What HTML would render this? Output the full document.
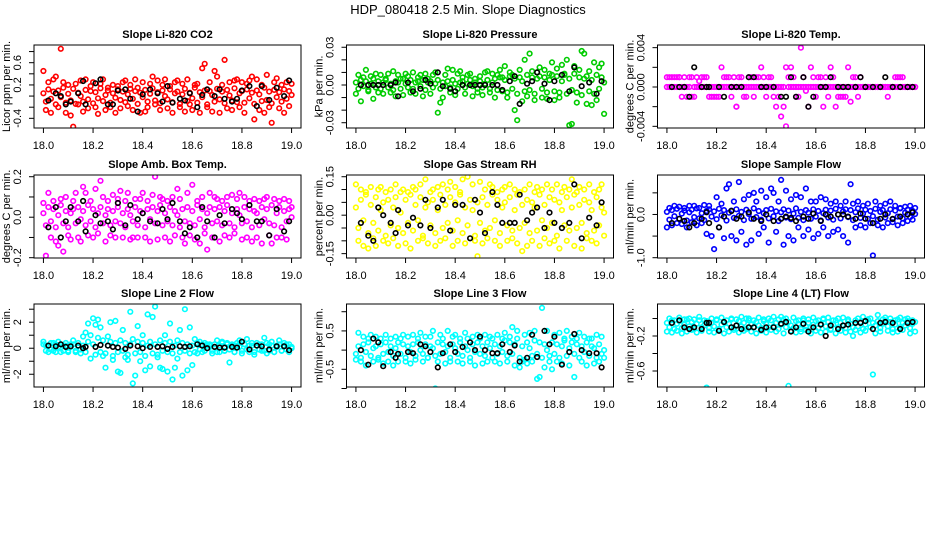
<!DOCTYPE html>
<html><head><meta charset="utf-8"><style>
html,body{margin:0;padding:0;background:#fff;}
svg{display:block;font-family:"Liberation Sans",sans-serif;}
</style></head><body>
<svg id="chart" width="936" height="540" viewBox="0 0 936 540" xmlns="http://www.w3.org/2000/svg">
<rect width="936" height="540" fill="#fff"/>
<text x="468" y="14" text-anchor="middle" font-size="13">HDP_080418  2.5 Min. Slope Diagnostics</text>
</svg>
<script>
const times=[18.00,18.01,18.02,18.03,18.04,18.05,18.06,18.07,18.08,18.09,18.10,18.11,18.12,18.13,18.14,18.15,18.16,18.17,18.18,18.19,18.20,18.21,18.22,18.23,18.24,18.25,18.26,18.27,18.28,18.29,18.30,18.31,18.32,18.33,18.34,18.35,18.36,18.37,18.38,18.39,18.40,18.41,18.42,18.43,18.44,18.45,18.46,18.47,18.48,18.49,18.50,18.51,18.52,18.53,18.54,18.55,18.56,18.57,18.58,18.59,18.60,18.61,18.62,18.63,18.64,18.65,18.66,18.67,18.68,18.69,18.70,18.71,18.72,18.73,18.74,18.75,18.76,18.77,18.78,18.79,18.80,18.81,18.82,18.83,18.84,18.85,18.86,18.87,18.88,18.89,18.90,18.91,18.92,18.93,18.94,18.95,18.96,18.97,18.98,18.99,19.00];
const blackTimes=[18.02,18.05,18.07,18.09,18.11,18.14,18.16,18.17,18.21,18.23,18.26,18.28,18.3,18.33,18.35,18.38,18.4,18.43,18.46,18.48,18.5,18.52,18.55,18.57,18.59,18.62,18.64,18.66,18.69,18.71,18.73,18.76,18.78,18.8,18.83,18.86,18.88,18.91,18.94,18.97,18.99];
const xTicks=[18.0,18.2,18.4,18.6,18.8,19.0];
const xTickLabels=["18.0","18.2","18.4","18.6","18.8","19.0"];

const co2A=[0.05,-0.1,0.12,-0.05,0.08,-0.15,0.1,-0.02,0.15,-0.12,0.04,-0.08,0.13,-0.14,0.06,0.0,-0.1,0.11,-0.06,0.09,-0.13,0.07,-0.04,0.14,-0.09,0.02,0.1,-0.12,0.05,-0.03,0.12,-0.07,0.08,-0.11,0.03,0.13,-0.05,0.09,-0.14,0.06,-0.02,0.11,-0.1,0.04,0.14,-0.08,0.07,-0.13,0.1,0.0,-0.06,0.12,-0.11,0.05,0.08,-0.14,0.03,0.13,-0.09,0.06,-0.04,0.15,-0.12,0.07,-0.02,0.1,-0.15,0.09,0.02,-0.1,0.13,-0.06,0.08,-0.13,0.11,0.01,-0.08,0.14,-0.11,0.05,0.09,-0.12,0.12,-0.04,0.06,-0.14,0.1,0.03,-0.09,0.15,-0.07,0.08,-0.13,0.11,-0.02,0.07,-0.1,0.12,-0.05,0.09,0.02];
const co2B=[0.45,-0.25,0.25,-0.3,0.3,0.35,-0.2,0.85,0.25,-0.3,0.2,-0.35,-0.55,0.22,-0.15,0.28,-0.28,0.3,-0.22,0.18,0.25,-0.2,-0.32,0.22,0.3,-0.25,0.15,-0.2,0.2,-0.3,0.18,-0.22,0.25,0.28,-0.18,0.2,-0.25,0.3,0.15,-0.3,0.25,-0.28,-0.2,0.22,0.35,-0.15,0.28,-0.25,0.2,0.3,-0.22,0.18,-0.3,0.25,0.28,-0.2,0.22,-0.28,0.3,-0.15,-0.25,0.2,0.22,-0.3,0.5,0.58,-0.2,0.25,-0.28,0.45,0.35,-0.3,0.2,0.65,-0.22,0.25,-0.25,0.28,0.3,-0.2,0.25,-0.3,0.22,0.28,0.35,-0.42,0.3,-0.25,0.2,-0.3,0.38,-0.2,-0.48,0.25,0.32,-0.22,0.2,-0.3,0.25,-0.18,0.22];
const co2Black=[-0.08,0.05,0.0,-0.15,-0.1,0.05,0.27,-0.15,0.23,0.3,-0.15,-0.15,0.1,0.12,-0.05,-0.28,0.03,0.12,0.05,-0.1,0.18,-0.12,-0.05,-0.08,0.05,-0.2,0.02,0.12,0.0,0.12,-0.05,-0.1,-0.05,0.1,0.18,-0.18,0.18,-0.07,0.15,0.0,0.28];

const presA=[0.002,-0.003,0.004,-0.001,0.003,-0.004,0.001,0.005,-0.002,0.003,-0.003,0.002,0.004,-0.002,0.001,-0.004,0.003,0.002,-0.003,0.005,0.001,-0.002,0.004,-0.003,0.002,0.003,-0.001,0.004,-0.004,0.002,0.003,-0.002,0.001,0.004,-0.003,0.002,-0.001,0.003,-0.002,0.004,0.001,-0.003,0.002,0.003,-0.002,0.001,0.004,-0.001,0.002,-0.003,0.003,-0.002,0.001,0.004,-0.003,0.002,0.005,-0.004,0.006,-0.005,0.004,-0.006,0.007,-0.003,0.005,-0.007,0.006,0.003,-0.005,0.008,-0.004,0.006,-0.007,0.005,0.007,-0.003,0.006,-0.006,0.004,0.008,-0.005,0.007,-0.006,0.003,0.008,-0.007,0.005,-0.004,0.009,-0.006,0.006,-0.008,0.005,0.007,-0.005,0.004,-0.007,0.008,-0.003,0.006,0.002];
const presB=[-0.007,0.008,-0.013,0.006,0.012,-0.005,0.007,-0.011,0.009,-0.006,0.008,-0.007,0.005,0.009,-0.006,0.011,-0.009,0.008,0.005,-0.008,0.009,0.007,-0.006,0.01,-0.007,0.006,0.008,-0.009,0.009,0.005,-0.007,0.008,0.01,-0.022,-0.014,-0.01,0.008,0.013,-0.006,0.012,-0.008,0.009,0.011,0.006,-0.007,0.008,0.009,-0.009,0.005,-0.006,0.007,-0.008,0.01,0.011,-0.006,0.009,-0.01,0.008,0.012,0.006,0.015,-0.01,0.01,0.008,-0.02,-0.028,0.012,-0.013,0.02,-0.009,0.025,0.011,-0.012,0.01,0.014,-0.01,0.012,-0.011,0.009,0.018,-0.012,0.013,-0.01,0.016,0.009,0.02,-0.032,-0.031,0.015,-0.014,0.012,0.027,0.025,-0.015,0.011,-0.016,0.018,-0.012,0.014,0.017,-0.023];
const presBlack=[0,0,0,0,0,0,0.002,-0.009,0.002,-0.005,-0.003,0.004,0.001,0.01,-0.001,-0.003,-0.005,0,0,0,0,0,0,0,-0.004,0.003,0.007,-0.015,0.001,0.003,0.01,0.001,-0.012,0.003,0.008,-0.005,0.014,-0.001,0.002,-0.007,0.003];

const tempA=[0,0,0,0,0,0.001,0,0,0,0,0.001,0,0,0,0,0,0,0,0,0,0,0,0,0,0,0,0,0,-0.002,0,0,0,0,0,0,0,0,0,0,0,0,0,0,0,0,0,0,0,-0.004,0,0,0,0,0,0,0,0,0,0,0,0,0,0,0,0,0,0,0,0,0,0,0,0,0,0,0,0,0,0,0,0,0,0,0,0,0,0,0,0,0,0,0,0,0,0,0,0,0,0,0,0];
const tempB=[0.001,0.001,0.001,0.001,0.001,0.001,-0.001,0.001,-0.001,0.001,-0.001,-0.001,0.001,0.0006,0.001,0.001,0.001,-0.001,-0.001,-0.001,-0.001,-0.001,0.002,0.001,0.001,0.001,-0.001,0.001,-0.002,0.001,0.001,-0.001,-0.001,0.001,0.001,-0.001,0.001,0.001,0.002,0.001,-0.001,0.001,0.001,-0.001,-0.002,-0.001,-0.003,-0.002,0.002,0.001,0.002,0.001,-0.001,-0.001,0.004,0.001,-0.0004,-0.002,0.002,0.001,-0.001,0.001,0.001,-0.002,0.001,-0.001,0.002,0.001,-0.002,-0.001,-0.001,-0.001,-0.001,0.002,-0.0015,0.001,0.001,-0.001,0.001,0,0,0,0,0,0,0,0,0,0,-0.001,0,0,0.001,0.001,0.001,0.001,0,0,0,0,0];
const tempBlack=[0,0,0,-0.001,0.002,0,0,0,0,-0.001,0,0,0,0.001,0.001,0,0,0,-0.001,-0.001,0.001,-0.001,0.001,-0.002,-0.001,0,0,0.001,0,0,0,0,0.001,0,0,0,0.001,0,0,0,0];

const ambA=[0.02,-0.04,0.05,-0.02,0.04,-0.05,0.01,0.06,-0.03,0.03,-0.05,0.02,0.04,-0.03,0.05,-0.01,0.03,-0.04,0.06,-0.02,0.04,-0.05,0.02,0.05,-0.03,0.01,0.04,-0.04,0.03,-0.02,0.05,-0.03,0.02,-0.05,0.04,0.01,-0.02,0.05,-0.04,0.03,0.02,-0.05,0.04,-0.01,0.05,-0.03,0.03,0.06,-0.04,0.02,-0.02,0.05,-0.04,0.03,0.01,-0.05,0.04,-0.02,0.05,-0.03,0.03,-0.04,0.06,-0.01,0.04,-0.05,0.02,0.05,-0.03,0.04,-0.02,0.05,-0.04,0.03,0.06,-0.03,0.02,-0.05,0.04,0.01,-0.03,0.05,-0.02,0.04,-0.05,0.03,0.02,-0.04,0.05,-0.01,0.04,-0.03,0.06,-0.04,0.02,0.05,-0.05,0.03,-0.02,0.04,0.0];
const ambB=[0.07,-0.19,0.12,-0.1,0.08,-0.12,-0.14,0.09,-0.17,0.1,-0.09,-0.11,0.08,0.12,-0.1,-0.12,0.15,0.12,-0.09,0.08,-0.1,0.14,-0.08,0.18,0.1,-0.12,0.08,-0.09,0.11,-0.1,0.09,0.13,-0.1,0.08,0.12,-0.11,-0.1,0.09,-0.1,0.09,0.12,-0.1,0.08,-0.12,0.11,0.2,-0.11,0.1,0.09,-0.1,0.08,-0.12,0.1,-0.09,0.14,0.09,-0.1,-0.13,0.12,-0.09,0.16,-0.11,0.08,-0.13,0.1,-0.08,-0.16,0.12,-0.1,0.1,0.09,-0.12,0.08,-0.09,0.1,-0.1,0.11,-0.08,0.09,0.12,-0.11,0.1,-0.1,0.08,-0.12,0.09,-0.1,0.08,-0.13,0.09,0.1,-0.09,-0.13,0.09,-0.1,0.08,-0.1,0.09,-0.11,0.08,0.05];
const ambBlack=[-0.05,0.05,-0.1,-0.02,0.05,-0.02,0.08,-0.07,0.01,-0.03,-0.02,-0.06,0.07,-0.04,0.06,-0.01,0.02,-0.02,-0.03,0.04,-0.01,0.07,-0.02,-0.08,-0.05,-0.1,0.05,-0.02,-0.1,0.01,-0.03,0.04,0.02,-0.01,0.06,-0.02,-0.02,-0.09,0.04,-0.07,-0.02];

const rhA=[0.03,-0.05,0.06,-0.02,0.08,-0.07,0.04,-0.03,0.07,-0.06,0.02,0.05,-0.08,0.06,-0.04,0.03,0.07,-0.05,0.01,-0.07,0.06,-0.03,0.08,-0.06,0.04,-0.02,0.07,-0.08,0.03,0.05,-0.04,0.06,-0.07,0.02,0.08,-0.05,0.04,-0.03,0.07,-0.06,0.05,-0.02,0.08,-0.07,0.03,-0.04,0.06,0.02,-0.08,0.05,-0.03,0.07,-0.06,0.04,-0.05,0.08,-0.02,0.06,-0.07,0.03,0.05,-0.04,0.07,-0.06,0.02,0.08,-0.05,0.04,-0.03,0.06,-0.07,0.05,0.03,-0.06,0.08,-0.02,0.04,-0.05,0.07,-0.03,0.06,-0.08,0.05,0.02,-0.04,0.07,-0.06,0.03,0.08,-0.05,0.04,-0.03,0.06,-0.07,0.05,0.02,-0.06,0.07,-0.04,0.03,0.01];
const rhB=[0.12,-0.1,0.1,-0.12,0.09,-0.13,0.11,-0.09,-0.12,0.1,0.11,-0.1,0.09,-0.11,0.1,-0.09,0.12,-0.12,0.09,0.1,-0.11,0.09,-0.13,0.11,0.1,-0.1,0.12,-0.09,0.14,-0.11,0.09,0.1,-0.12,0.11,-0.1,0.12,-0.09,0.1,0.13,-0.12,0.11,-0.1,0.09,0.14,-0.11,0.15,-0.09,0.12,-0.1,-0.16,0.13,-0.11,0.1,-0.09,0.12,0.11,-0.1,0.09,-0.12,0.1,0.11,-0.1,0.12,-0.09,0.1,-0.11,0.09,-0.14,0.1,-0.12,0.12,-0.1,0.09,0.11,-0.12,0.1,-0.09,0.12,-0.11,0.1,-0.1,0.12,-0.13,0.09,0.11,-0.1,0.1,0.14,-0.12,0.09,0.11,-0.13,0.1,-0.09,0.12,-0.1,0.09,-0.11,0.1,0.12,-0.08];
const rhBlack=[-0.03,-0.08,-0.1,0.03,0.0,-0.03,-0.07,0.02,-0.04,-0.01,-0.04,0.06,-0.05,0.03,0.06,-0.06,0.04,0.04,-0.09,0.06,0.01,-0.07,0.09,0.04,-0.03,-0.03,-0.03,0.08,-0.02,0.01,0.03,-0.05,0.01,-0.03,-0.05,-0.03,0.12,-0.09,-0.01,-0.04,0.05];

const sfA=[0.06,-0.12,0.1,-0.04,0.13,-0.1,0.02,0.09,-0.14,0.05,0.11,-0.06,0.14,-0.09,0.03,-0.13,0.08,0.12,-0.05,0.07,-0.11,0.13,-0.02,0.1,-0.14,0.04,0.09,-0.08,0.12,-0.03,0.06,-0.13,0.11,0.01,-0.1,0.14,-0.06,0.08,-0.12,0.03,0.1,-0.09,0.13,-0.04,0.07,-0.15,0.05,0.12,-0.07,0.09,-0.11,0.02,0.14,-0.08,0.06,-0.13,0.1,0.04,-0.1,0.12,-0.05,0.08,-0.14,0.03,0.11,-0.07,0.09,-0.12,0.13,0.0,-0.09,0.07,0.12,-0.06,0.1,-0.13,0.05,0.14,-0.08,0.02,0.11,-0.1,0.08,-0.04,0.13,-0.12,0.06,0.1,-0.07,0.03,0.12,-0.11,0.09,-0.05,0.14,-0.09,0.04,0.11,-0.06,0.08,0.01];
const sfB=[-0.3,0.15,-0.25,0.2,-0.2,0.18,-0.22,0.15,-0.3,0.2,-0.18,0.2,-0.25,0.15,-0.2,0.22,-0.45,0.2,-0.5,-0.8,0.4,-0.3,0.25,-0.55,0.6,0.7,-0.5,0.3,-0.6,0.75,-0.4,0.35,-0.7,0.45,-0.6,0.5,0.3,-0.45,0.55,-0.3,0.4,-0.65,0.6,0.5,-0.4,0.3,0.8,-0.7,0.55,-0.5,0.35,-0.6,0.45,-0.3,0.4,-0.5,0.6,-0.35,0.3,-0.55,0.3,-0.45,0.4,-0.3,0.35,-0.5,0.25,-0.4,0.3,-0.35,0.2,-0.5,0.3,-0.65,0.7,0.25,-0.3,0.3,-0.25,0.2,-0.3,0.25,-0.2,-0.95,0.3,-0.25,0.2,-0.3,0.25,-0.2,0.3,-0.18,0.2,-0.25,0.15,-0.2,0.18,-0.15,0.2,-0.12,0.15];
const sfBlack=[-0.2,-0.1,-0.15,-0.3,-0.2,-0.1,0.05,-0.2,-0.3,-0.05,0.08,-0.1,-0.05,0.05,-0.1,-0.15,0.0,-0.15,-0.1,-0.05,-0.08,-0.15,-0.05,-0.1,0.02,-0.15,0.0,-0.05,0.0,0.0,-0.05,-0.1,0.02,-0.1,-0.2,-0.1,0.0,-0.1,-0.05,0.0,0.05];

const l2A=[0.3,-0.2,0.2,-0.1,0.4,-0.3,0.1,0.3,-0.2,0.2,-0.3,0.1,0.3,-0.2,0.4,-0.1,0.2,-0.3,0.5,1.0,0.3,-0.5,0.8,-0.3,0.6,-0.4,0.2,0.5,-0.6,0.4,-0.3,0.6,-0.2,0.4,-0.5,0.3,0.7,-0.4,0.5,-0.3,0.4,-0.6,0.2,0.5,-0.4,0.3,-0.5,0.6,-0.2,0.4,-0.3,0.5,-0.4,0.2,0.6,-0.3,0.4,-0.2,0.3,-0.4,0.2,-0.3,0.4,-0.1,0.3,-0.2,0.2,0.3,-0.2,0.1,-0.3,0.2,0.4,-0.2,0.3,-0.1,0.2,-0.3,0.2,0.1,-0.2,0.3,-0.1,0.2,0.4,-0.3,0.2,-0.1,0.3,-0.2,0.4,-0.2,0.2,-0.3,0.1,0.3,-0.2,0.2,-0.1,0.3,0.0];
const l2B=[0.5,0.2,-0.3,0.4,-0.2,0.3,0.5,-0.3,0.2,0.4,-0.2,0.3,0.6,-0.3,0.2,-0.4,0.9,1.2,1.9,-0.8,2.3,1.8,2.2,1.6,-0.6,-1.5,0.9,2.0,-0.9,2.1,-1.8,-1.9,1.4,-0.7,-0.9,2.8,-2.7,-2.1,1.7,-1.0,1.0,-1.7,2.6,-1.4,2.4,3.2,-0.7,-1.5,-1.6,1.0,-1.8,1.9,-2.4,-1.5,-0.8,1.4,-2.1,3.0,-1.7,1.6,-1.3,0.7,-0.4,0.5,-0.3,0.4,0.3,0.2,-0.4,0.3,0.6,-0.3,0.5,-0.2,0.4,-1.1,0.3,-0.3,0.4,0.6,-0.4,0.3,0.7,-0.3,0.2,-0.5,0.4,0.3,-0.2,0.8,-0.4,0.3,0.5,-0.3,0.2,0.6,-0.2,0.4,0.3,-0.3,0.1];
const l2Black=[0.2,0.15,0.3,0.1,0.15,0.2,0.0,0.1,0.1,0.25,0.2,0.1,0.05,-0.05,0.2,0.15,0.0,0.1,0.1,0.15,-0.05,0.1,0.15,0.1,0.15,0.3,0.2,0.0,0.1,0.05,0.05,0.1,0.05,0.5,-0.1,0.2,0.15,-0.1,0.15,0.15,-0.15];

const l3A=[-0.1,0.1,-0.2,0.15,-0.05,0.2,-0.15,0.05,0.1,-0.2,0.15,-0.1,0.2,-0.05,0.1,-0.15,0.05,0.2,-0.1,0.15,-0.2,0.1,-0.05,0.15,-0.15,0.2,0.0,-0.1,0.15,-0.2,0.1,0.05,-0.15,0.2,-0.1,0.15,-0.05,0.1,-0.2,0.15,0.05,-0.1,0.2,-0.15,0.1,0.0,-0.2,0.15,-0.05,0.2,-0.1,0.1,-0.15,0.2,0.05,-0.2,0.15,-0.1,0.1,-0.05,0.25,-0.15,0.2,-0.1,0.15,0.3,-0.2,0.1,-0.25,0.2,0.05,-0.15,0.25,-0.1,0.2,-0.2,0.15,0.0,-0.15,0.2,-0.1,0.15,-0.2,0.1,0.25,-0.15,0.05,0.2,-0.1,0.15,-0.2,0.1,-0.05,0.2,-0.15,0.1,0.05,-0.2,0.15,-0.1,0.0];
const l3B=[-0.25,0.45,-0.3,0.35,-0.4,0.3,0.4,-0.3,0.35,-0.25,0.3,-0.35,0.4,-0.3,0.3,-0.4,0.35,-0.3,0.3,0.4,-0.3,0.35,-0.35,0.4,-0.25,0.3,0.45,-0.3,0.35,-0.2,0.35,0.5,-1.0,-0.3,0.4,0.3,-0.35,0.5,-0.3,0.35,0.4,-0.3,0.3,-0.35,0.45,0.3,-0.3,0.35,-0.4,0.4,0.3,-0.35,0.4,-0.3,0.35,0.3,-0.3,0.4,-0.35,0.3,0.45,-0.3,0.35,0.6,-0.4,0.5,-0.45,-0.3,0.4,-0.35,0.45,-0.3,0.5,-0.75,-0.7,1.1,-0.45,0.5,-0.3,-0.5,0.4,-0.3,0.45,-0.35,0.3,0.5,-0.4,0.35,-0.7,0.3,0.45,-0.3,0.35,-0.4,0.3,0.3,-0.35,0.4,-0.3,0.35,-0.2];
const l3Black=[0.0,-0.38,0.3,0.2,-0.42,-0.05,-0.2,-0.1,-0.05,-0.08,0.15,0.1,-0.05,-0.45,-0.08,0.15,-0.05,0.08,0.2,0.0,0.35,0.0,-0.08,-0.08,0.15,-0.05,0.12,-0.3,-0.2,0.4,-0.18,0.5,0.15,0.35,-0.38,-0.05,0.42,0.0,-0.08,-0.08,-0.45];

const l4A=[-0.05,-0.1,-0.02,-0.12,-0.06,-0.03,-0.11,-0.07,-0.01,-0.09,-0.04,-0.12,-0.06,-0.02,-0.1,-0.08,-0.03,-0.11,-0.05,-0.09,-0.02,-0.12,-0.07,-0.04,-0.1,-0.06,-0.01,-0.11,-0.08,-0.03,-0.09,-0.05,-0.12,-0.02,-0.07,-0.1,-0.04,-0.08,-0.11,-0.03,-0.06,-0.1,-0.02,-0.09,-0.05,-0.12,-0.07,-0.01,-0.1,-0.04,-0.08,-0.11,-0.03,-0.06,-0.12,-0.02,-0.09,-0.05,-0.1,-0.07,-0.03,-0.11,-0.06,-0.01,-0.09,-0.04,-0.12,-0.07,-0.02,-0.1,-0.05,-0.08,-0.11,-0.03,-0.06,-0.1,-0.02,-0.09,-0.04,-0.12,-0.07,-0.01,-0.1,-0.05,-0.08,-0.03,-0.11,-0.06,-0.02,-0.09,-0.04,-0.12,-0.07,-0.01,-0.1,-0.05,-0.08,-0.03,-0.11,-0.06,-0.04];
const l4B=[-0.15,0.0,-0.16,-0.02,-0.14,0.01,-0.17,-0.01,-0.15,0.0,-0.13,-0.01,-0.16,0.02,-0.14,-0.02,-0.79,-0.15,0.0,-0.16,-0.01,-0.14,0.01,-0.17,-0.02,-0.15,0.0,-0.13,-0.01,-0.16,0.02,-0.14,0.0,0.0,-0.15,-0.02,-0.17,0.01,-0.14,-0.01,-0.16,0.0,-0.13,0.02,-0.15,-0.01,0.02,-0.17,0.0,-0.77,-0.14,0.01,-0.16,-0.02,-0.15,0.0,-0.13,-0.01,-0.17,0.01,-0.14,-0.02,-0.16,0.0,-0.15,0.01,-0.13,-0.02,-0.17,0.0,-0.14,0.01,-0.16,-0.01,-0.15,-0.2,-0.13,0.0,-0.16,0.02,-0.14,-0.01,0.0,-0.64,-0.17,0.04,-0.15,-0.01,0.01,-0.14,0.0,-0.16,-0.02,-0.15,0.01,-0.13,-0.01,0.0,-0.17,-0.02,-0.15];
const l4Black=[-0.05,-0.02,-0.1,-0.12,-0.1,-0.12,-0.05,-0.05,-0.14,-0.04,-0.1,-0.08,-0.12,-0.1,-0.1,-0.13,-0.1,-0.1,-0.06,-0.04,-0.15,-0.1,-0.06,-0.15,-0.1,-0.07,-0.2,-0.08,-0.12,-0.08,-0.07,-0.05,-0.05,-0.03,-0.12,-0.05,-0.04,-0.05,-0.12,-0.05,-0.04];

const panelTitles=["Slope Li-820 CO2","Slope Li-820 Pressure","Slope Li-820 Temp.","Slope Amb. Box Temp.","Slope Gas Stream RH","Slope Sample Flow","Slope Line 2 Flow","Slope Line 3 Flow","Slope Line 4 (LT) Flow"];
const yTitles=["Licor ppm per min.","kPa per min.","degrees C per min.","degrees C per min.","percent per min.","ml/min per min.","ml/min per min.","ml/min per min.","ml/min per min."];
const seriesA=[co2A,presA,tempA,ambA,rhA,sfA,l2A,l3A,l4A];
const seriesB=[co2B,presB,tempB,ambB,rhB,sfB,l2B,l3B,l4B];
const seriesBlack=[co2Black,presBlack,tempBlack,ambBlack,rhBlack,sfBlack,l2Black,l3Black,l4Black];
const yTickVals=[[-0.4,-0.2,0,0.2,0.4,0.6,0.8],[-0.03,-0.02,-0.01,0,0.01,0.02,0.03],[-0.004,-0.002,0,0.002,0.004],[-0.2,-0.1,0,0.1,0.2],[-0.15,-0.1,-0.05,0,0.05,0.1,0.15],[-1,-0.5,0,0.5],[-2,-1,0,1,2,3],[-1,-0.5,0,0.5,1],[-0.6,-0.4,-0.2,0]];
const yTickLabels=[["-0.4","","","0.2","","0.6",""],["-0.03","","","0.00","","","0.03"],["-0.004","","0.000","","0.004"],["-0.2","","0.0","","0.2"],["-0.15","","","0.00","","","0.15"],["-1.0","","0.0",""],["-2","","0","","2",""],["","-0.5","","0.5",""],["-0.6","","-0.2",""]];
const yDomains=[[-0.574,0.918],[-0.0342,0.0318],[-0.00417,0.00427],[-0.2015,0.2085],[-0.167,0.1567],[-1.007,0.913],[-2.98,3.40],[-0.961,1.201],[-0.783,0.166]];
const colors=["#ff0000","#00cd00","#ff00ff","#ff00ff","#ffff00","#0000ff","#00ffff","#00ffff","#00ffff"];

const NS="http://www.w3.org/2000/svg";
const svg=document.getElementById('chart');
const colLeft=[34,346.5,657.5], rowTop=[45,175,304], boxW=267, boxH=83;
const xDom=[17.962,19.038];
function mk(tag,attrs,parent){const e=document.createElementNS(NS,tag);for(const k in attrs)e.setAttribute(k,attrs[k]);(parent||svg).appendChild(e);return e;}

for(let p=0;p<9;p++){
  const L=colLeft[p%3], T=rowTop[Math.floor(p/3)];
  const g=mk('g',{});
  
  
  const xs=v=>L+(v-xDom[0])/(xDom[1]-xDom[0])*boxW;
  const yd=yDomains[p];
  const ys=v=>T+boxH-(v-yd[0])/(yd[1]-yd[0])*boxH;
  const clipId='clip'+p;
  const cp=mk('clipPath',{id:clipId},g);
  mk('rect',{x:L,y:T,width:boxW,height:boxH},cp);
  const pts=mk('g',{'clip-path':'url(#'+clipId+')',fill:'none','stroke-width':1.6},g);
  
  
  [seriesB[p],seriesA[p]].forEach(arr=>{
    arr.forEach((v,i)=>{
      const c=mk('circle',{cx:xs(times[i]).toFixed(1),cy:ys(v).toFixed(1),r:2.3,stroke:colors[p]},pts);
      
      
    });
  });
  seriesBlack[p].forEach((v,i)=>{
    const c=mk('circle',{cx:xs(blackTimes[i]).toFixed(1),cy:ys(v).toFixed(1),r:2.3,stroke:'#000'},pts);
    
    
  });
  const box=mk('rect',{x:L,y:T,width:boxW,height:boxH,fill:'none',stroke:'#000','stroke-width':1},g);
  
  
  const t=mk('text',{x:L+boxW/2,y:T-7,'text-anchor':'middle','font-size':11,'font-weight':'bold'},g);
  t.textContent=panelTitles[p];
  
  
  // x axis
  mk('line',{x1:xs(xTicks[0]),x2:xs(xTicks[xTicks.length-1]),y1:T+boxH,y2:T+boxH,stroke:'#000'},g);
  xTicks.forEach((v,i)=>{
    mk('line',{x1:xs(v),x2:xs(v),y1:T+boxH,y2:T+boxH+5,stroke:'#000'},g);
    const tx=mk('text',{x:xs(v),y:T+boxH+21,'text-anchor':'middle','font-size':11},g);
    tx.textContent=xTickLabels[i];
    
    
  });
  // y axis
  const yt=yTickVals[p];
  mk('line',{x1:L,x2:L,y1:ys(yt[0]),y2:ys(yt[yt.length-1]),stroke:'#000'},g);
  yt.forEach((v,i)=>{
    mk('line',{x1:L-5,x2:L,y1:ys(v),y2:ys(v),stroke:'#000'},g);
    if(yTickLabels[p][i]){
      const yy=ys(v);
      const ty=mk('text',{x:L-13,y:yy,'text-anchor':'middle','font-size':11,transform:'rotate(-90 '+(L-13)+' '+yy+')'},g);
      ty.textContent=yTickLabels[p][i];
      
      
    }
  });
  const cx=L-24, cy=T+boxH/2;
  const yl=mk('text',{x:cx,y:cy,'text-anchor':'middle','font-size':11,transform:'rotate(-90 '+cx+' '+cy+')'},g);
  yl.textContent=yTitles[p];
  
  
}
</script>
</body></html>
